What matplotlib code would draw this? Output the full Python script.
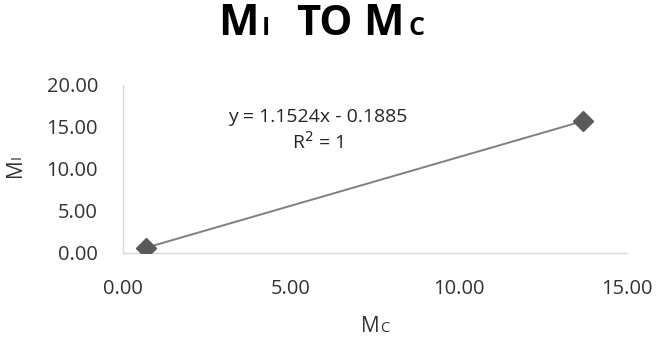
import matplotlib
matplotlib.use("Agg")
import matplotlib.pyplot as plt
import numpy as np

mc_values = [0.68, 13.69]
mi_values = [0.62, 15.70]
x_ticks = [0, 5, 10, 15]
y_ticks = [0, 5, 10, 15, 20]
equation_text = "y = 1.1524x - 0.1885\nR$^2$ = 1"

plt.rcParams['font.family'] = ['Open Sans', 'DejaVu Sans']

fig = plt.figure(figsize=(6.61, 3.40), dpi=100)
ax = fig.add_axes([123/661, 1-253/340, (627-123)/661, (253-85)/340])

ax.plot(mc_values, mi_values, color='#808080', lw=1.4, zorder=2)
ax.plot(mc_values, mi_values, linestyle='none', marker='D', markersize=10.5,
        color='#5a5a5a', zorder=3)

ax.set_xlim(0, 15)
ax.set_ylim(0, 20)
ax.set_xticks(x_ticks)
ax.set_yticks(y_ticks)
ax.set_xticklabels([f"{v:.2f}" for v in x_ticks])
ax.set_yticklabels([f"{v:.2f}" for v in y_ticks])
ax.tick_params(length=0, labelsize=14.5, labelcolor='#333333')
ax.tick_params(axis='y', pad=18)
ax.tick_params(axis='x', pad=19)
for s in ['top', 'right']:
    ax.spines[s].set_visible(False)
for s in ['left', 'bottom']:
    ax.spines[s].set_color('#d9d9d9')
    ax.spines[s].set_linewidth(1.0)

ax.text(0.387, 0.73, equation_text, transform=ax.transAxes, ha='center', va='center',
        fontsize=14, color='#262626', linespacing=1.3)

renderer = fig.canvas.get_renderer()

def runs(pieces, x_center, y_base, rotation=0, color='#262626', weight='normal'):
    widths = []
    for txt, sz in pieces:
        t = fig.text(0, 0, txt, fontsize=sz, fontweight=weight)
        bb = t.get_window_extent(renderer)
        widths.append(bb.width)
        t.remove()
    total = sum(widths)
    pos = -total/2
    for (txt, sz), w in zip(pieces, widths):
        if rotation == 0:
            fig.text((x_center + pos)/661, y_base/340, txt, fontsize=sz, fontweight=weight,
                     ha='left', va='baseline', color=color)
        else:
            fig.text(x_center/661, (y_base + pos)/340, txt, fontsize=sz, fontweight=weight,
                     ha='left', va='baseline', rotation=90, rotation_mode='anchor', color=color)
        pos += w

# title pieces placed at left edges
title_pieces = [("M", 31, 218), ("I", 18, 262), ("TO", 30, 296), ("M", 31, 363), ("C", 18, 408)]
for txt, sz, xl in title_pieces:
    fig.text(xl/661, (340-35)/340, txt, fontsize=sz, fontweight='bold',
             ha='left', va='baseline', color='#000000')

# x label
runs([("M", 15), ("C", 10.5)], 375, 340-332, color='#333333')
# y label (rotated): x is baseline position
runs([("M", 15), ("I", 10.5)], 21, 340-166, rotation=90, color='#333333')

fig.savefig("out.png", dpi=100)
